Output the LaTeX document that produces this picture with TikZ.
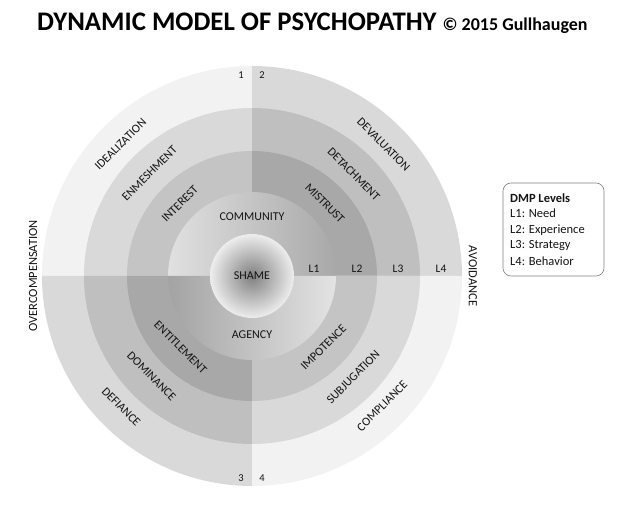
\documentclass[tikz,border=0pt]{standalone}
\usepackage{fontspec}
\setmainfont{Carlito}
\definecolor{ringA4}{HTML}{F2F2F2}
\definecolor{ringA3}{HTML}{D9D9D9}
\definecolor{ringA2}{HTML}{C4C4C4}
\definecolor{ringB4}{HTML}{D9D9D9}
\definecolor{ringB3}{HTML}{BFBFBF}
\definecolor{ringB2}{HTML}{A8A8A8}
\definecolor{txt}{HTML}{141414}
\definecolor{boxline}{HTML}{808080}
\pgfdeclareradialshading{shamesh}{\pgfpoint{0bp}{0bp}}{color(0bp)=(black!50); color(25bp)=(black!7); color(50bp)=(black!7)}
\begin{document}
\begin{tikzpicture}[x=1pt,y=1pt,
  ringlbl/.style={font=\fontsize{12}{14}\selectfont, text=txt, inner sep=0pt},
  outerlbl/.style={font=\fontsize{12.5}{14}\selectfont, text=txt, inner sep=0pt},
  numlbl/.style={font=\fontsize{10.5}{12}\selectfont, text=txt, inner sep=0pt},
  lvllbl/.style={font=\fontsize{11.5}{13}\selectfont, text=txt, inner sep=0pt},
  legline/.style={font=\fontsize{12.5}{14}\selectfont, text=txt, inner sep=0pt, anchor=west}]
\useasboundingbox (0,0) rectangle (630,512);
\fill[white] (0,0) rectangle (630,512);
% title
\node[anchor=base west, inner sep=0pt, text=black] (title) at (37,481)
  {\fontsize{26.8}{30}\selectfont\bfseries DYNAMIC MODEL OF PSYCHOPATHY\ \fontsize{18}{20}\selectfont © 2015 Gullhaugen};
\begin{scope}[shift={(252,236)}]
  \coordinate (c) at (0,0);
  % quadrant sectors: TL (90-180), TR (0-90), BL (180-270), BR (270-360)
  \foreach \a/\b/\cf in {90/180/A, 0/90/B, 180/270/B, 270/360/A}{
    \fill[ring\cf4] (0,0) -- (\a:210) arc[start angle=\a, end angle=\b, radius=210] -- cycle;
    \fill[ring\cf3] (0,0) -- (\a:168) arc[start angle=\a, end angle=\b, radius=168] -- cycle;
    \fill[ring\cf2] (0,0) -- (\a:125) arc[start angle=\a, end angle=\b, radius=125] -- cycle;
  }
  % L1 ring halves
  \shade[left color=black!12, right color=black!34]
    (0:84) arc[start angle=0, end angle=180, radius=84] -- (180:42) arc[start angle=180, end angle=0, radius=42] -- cycle;
  \shade[left color=black!36, right color=black!11]
    (180:84) arc[start angle=180, end angle=360, radius=84] -- (0:42) arc[start angle=360, end angle=180, radius=42] -- cycle;
  % shame circle
  \shade[shading=shamesh] (0,0) circle (42);
  \node[ringlbl] (shame) at (0,0) {SHAME};
  \node[ringlbl] (community) at (0,59) {COMMUNITY};
  \node[ringlbl] (agency) at (0,-59) {AGENCY};
  % TL
  \node[ringlbl, rotate=45] (interest) at (135:102) {INTEREST};
  \node[ringlbl, rotate=45] (enmesh) at (135:145) {ENMESHMENT};
  \node[ringlbl, rotate=45] (ideal) at (135:186) {IDEALIZATION};
  % TR
  \node[ringlbl, rotate=-45] (mistrust) at (45:103) {MISTRUST};
  \node[ringlbl, rotate=-45] (detach) at (45:144) {DETACHMENT};
  \node[ringlbl, rotate=-45] (deval) at (45:186) {DEVALUATION};
  % BL
  \node[ringlbl, rotate=-45] (entitle) at (225:101) {ENTITLEMENT};
  \node[ringlbl, rotate=-45] (dominance) at (225:142) {DOMINANCE};
  \node[ringlbl, rotate=-45] (defiance) at (225:185) {DEFIANCE};
  % BR
  \node[ringlbl, rotate=45] (impotence) at (315:101) {IMPOTENCE};
  \node[ringlbl, rotate=45] (subjug) at (315:143) {SUBJUGATION};
  \node[ringlbl, rotate=45] (compliance) at (315:184) {COMPLIANCE};
  % level labels
  \node[lvllbl] (l1) at (62,7) {L1};
  \node[lvllbl] (l2) at (105,7) {L2};
  \node[lvllbl] (l3) at (146,7) {L3};
  \node[lvllbl] (l4) at (189,7) {L4};
  % numbers
  \node[numlbl] (n1) at (-11,201) {1};
  \node[numlbl] (n2) at (10,201) {2};
  \node[numlbl] (n3) at (-11,-202) {3};
  \node[numlbl] (n4) at (10,-202) {4};
  % outer labels
  \node[outerlbl, rotate=90] (overcomp) at (-219,0) {OVERCOMPENSATION};
  \node[outerlbl, rotate=-90] (avoid) at (221,0) {AVOIDANCE};
\end{scope}
% legend
\draw[boxline, line width=0.6pt, rounded corners=8pt] (503,236) rectangle (604,329);
\node[legline, font=\fontsize{12.5}{14}\selectfont\bfseries] (legt) at (510,314) {DMP Levels};
\node[legline] (leg1) at (510,299) {L1: Need};
\node[legline] (leg2) at (510,282) {L2: Experience};
\node[legline] (leg3) at (510,266) {L3: Strategy};
\node[legline] (leg4) at (510,251) {L4: Behavior};
\end{tikzpicture}
\end{document}
